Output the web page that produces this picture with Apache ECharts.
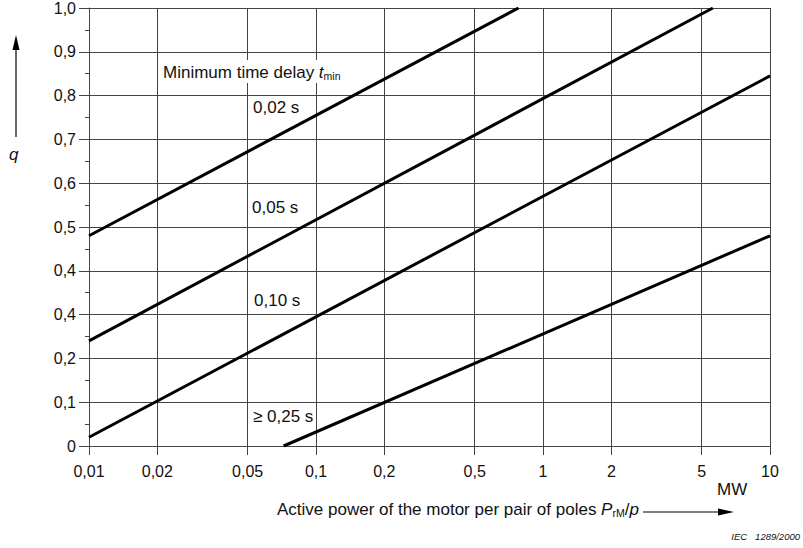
<!DOCTYPE html>
<html><head><meta charset="utf-8">
<script src="https://cdn.jsdelivr.net/npm/echarts@6/dist/echarts.min.js"></script>
<style>html,body{margin:0;padding:0;background:#fff}#c{width:803px;height:548px}</style>
</head><body><div id="c"></div>
<script>
// ---- data ----
const xTickValues = [0.01, 0.02, 0.05, 0.1, 0.2, 0.5, 1, 2, 5, 10];
const xTickLabels = ['0,01', '0,02', '0,05', '0,1', '0,2', '0,5', '1', '2', '5', '10'];
const yTickLabels = ['0', '0,1', '0,2', '0,4', '0,4', '0,5', '0,6', '0,7', '0,8', '0,9', '1,0'];
const curveNames = ['0,02 s', '0,05 s', '0,10 s', '≥ 0,25 s'];
const power002 = [0.01, 0.78];
const q002 = [0.48, 1.0];
const power005 = [0.01, 5.6];
const q005 = [0.24, 1.0];
const power010 = [0.01, 10];
const q010 = [0.02, 0.845];
const power025 = [0.072, 10];
const q025 = [0.0, 0.48];

const FONT = '"Liberation Sans", Arial, sans-serif';
const GRID = '#444';
const TXT = '#111';

const pairs = (xs, ys) => xs.map((x, i) => [x, ys[i]]);
const curves = [pairs(power002, q002), pairs(power005, q005), pairs(power010, q010), pairs(power025, q025)];

function xLabel(v) {
  const i = xTickValues.findIndex(t => Math.abs(Math.log10(t) - Math.log10(v)) < 1e-6);
  return i >= 0 ? xTickLabels[i] : '';
}
const richStyles = {
  n: { fontSize: 17, fontFamily: FONT, fill: TXT, verticalAlign: 'bottom', lineHeight: 19 },
  i: { fontSize: 17, fontFamily: FONT, fontStyle: 'italic', fill: TXT, verticalAlign: 'bottom', lineHeight: 19 },
  s: { fontSize: 10.5, fontFamily: FONT, fill: TXT, verticalAlign: 'bottom', lineHeight: 13 }
};

const chart = echarts.init(document.getElementById('c'), null, { renderer: 'svg' });
chart.setOption({
  animation: false,
  backgroundColor: '#fff',
  grid: { left: 89, right: 33, top: 7, bottom: 102, containLabel: false },
  xAxis: {
    type: 'log', logBase: 10, min: 0.01, max: 10,
    axisLine: { show: true, lineStyle: { color: GRID, width: 1 } },
    axisTick: { show: true, length: 9, customValues: xTickValues, lineStyle: { color: GRID } },
    axisLabel: { customValues: xTickValues, formatter: xLabel, margin: 17, fontSize: 16, color: TXT, fontFamily: FONT },
    splitLine: { show: true, lineStyle: { color: GRID, width: 1 } },
    minorTick: { show: false }, minorSplitLine: { show: false }
  },
  yAxis: {
    type: 'value', min: 0, max: 1, interval: 0.1,
    axisLine: { show: true, lineStyle: { color: GRID, width: 1 } },
    axisTick: { show: true, length: 10, lineStyle: { color: GRID } },
    minorTick: { show: true, splitNumber: 2, length: 4, lineStyle: { color: GRID } },
    axisLabel: { formatter: v => yTickLabels[Math.round(v * 10)], margin: 13, fontSize: 16, color: TXT, fontFamily: FONT },
    splitLine: { show: true, lineStyle: { color: GRID, width: 1 } }
  },
  series: curves.map((d, i) => ({
    name: curveNames[i], type: 'line', data: d, symbol: 'none', silent: true,
    lineStyle: { color: '#000', width: 3 }
  })),
  graphic: [
    { type: 'text', left: 161, top: 60, z: 100,
      style: { text: '{n|Minimum time delay }{i|t}{s|min}', backgroundColor: '#fff', padding: [2, 3, 2, 2], rich: richStyles } },
    { type: 'text', left: 253, top: 99, z: 100, style: { text: curveNames[0], font: '17px ' + FONT, fill: TXT } },
    { type: 'text', left: 252, top: 199, z: 100, style: { text: curveNames[1], font: '17px ' + FONT, fill: TXT } },
    { type: 'text', left: 254, top: 292, z: 100, style: { text: curveNames[2], font: '17px ' + FONT, fill: TXT } },
    { type: 'text', left: 253, top: 408, z: 100, style: { text: curveNames[3], font: '17px ' + FONT, fill: TXT } },
    // y axis title
    { type: 'line', shape: { x1: 16, y1: 137, x2: 16, y2: 48 }, style: { stroke: '#000', lineWidth: 1.2 } },
    { type: 'polygon', shape: { points: [[16, 35], [12.5, 50], [19.5, 50]] }, style: { fill: '#000' } },
    { type: 'text', left: 9, top: 146, style: { text: 'q', font: 'italic 17px ' + FONT, fill: TXT } },
    // x axis title
    { type: 'text', left: 277, top: 501,
      style: { text: '{n|Active power of the motor per pair of poles }{i|P}{s|rM}{n|/}{i|p}', rich: richStyles } },
    { type: 'line', shape: { x1: 643, y1: 512, x2: 720, y2: 512 }, style: { stroke: '#000', lineWidth: 1.2 } },
    { type: 'polygon', shape: { points: [[734, 512], [718, 508.5], [718, 515.5]] }, style: { fill: '#000' } },
    { type: 'text', left: 717, top: 481, style: { text: 'MW', font: '17px ' + FONT, fill: TXT } },
    { type: 'text', right: 3, top: 531, style: { text: 'IEC   1289/2000', font: 'italic 9.5px ' + FONT, fill: TXT } }
  ]
});
</script>
</body></html>
